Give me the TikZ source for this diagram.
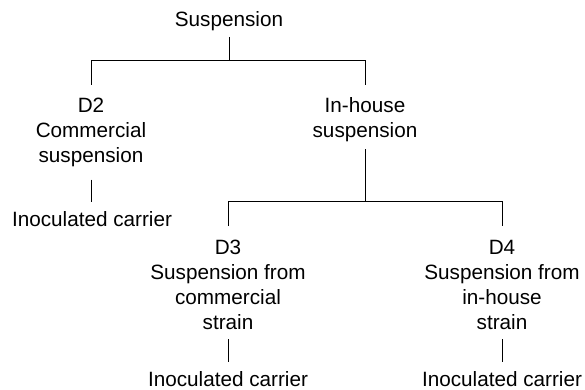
\documentclass[tikz,border=0pt]{standalone}
\usepackage{fontspec}
\setmainfont{Liberation Sans}
\begin{document}
\begin{tikzpicture}[x=1pt,y=-1pt,
  lbl/.style={anchor=base,inner sep=0pt,outer sep=0pt,font=\fontsize{20.7}{25}\selectfont},
  conn/.style={line width=1pt,black}]
\useasboundingbox (0,0) rectangle (585,390);
\node[lbl] (root) at (229,26.5) {\begin{tabular}[t]{@{}c@{}}Suspension\end{tabular}};
\node[lbl] (d2) at (91,113) {\begin{tabular}[t]{@{}c@{}}D2\\Commercial\\suspension\end{tabular}};
\node[lbl] (inh) at (365,113) {\begin{tabular}[t]{@{}c@{}}In-house\\suspension\end{tabular}};
\node[lbl] (ic2) at (92,226) {\begin{tabular}[t]{@{}c@{}}Inoculated carrier\end{tabular}};
\node[lbl] (d3) at (228,254) {\begin{tabular}[t]{@{}c@{}}D3\\Suspension from\\commercial\\strain\end{tabular}};
\node[lbl] (d4) at (502,254) {\begin{tabular}[t]{@{}c@{}}D4\\Suspension from\\in-house\\strain\end{tabular}};
\node[lbl] (ic3) at (228,386) {\begin{tabular}[t]{@{}c@{}}Inoculated carrier\end{tabular}};
\node[lbl] (ic4) at (502,386) {\begin{tabular}[t]{@{}c@{}}Inoculated carrier\end{tabular}};
\coordinate (bar1) at (0,61);
\coordinate (bar2) at (0,201);
\draw[conn] ([yshift=-3pt]root.south) -- (root.south |- bar1);
\draw[conn] ([yshift=10.5pt]d2.north) |- (bar1 -| inh) -- ([yshift=10.5pt]inh.north);
\draw[conn] ([yshift=-9pt]d2.south) -- ([yshift=6.5pt]ic2.north -| d2);
\draw[conn] ([yshift=-3.5pt]inh.south) -- (inh.south |- bar2);
\draw[conn] ([yshift=10.5pt]d3.north) |- (bar2 -| d4) -- ([yshift=10.5pt]d4.north);
\draw[conn] ([yshift=-2.5pt]d3.south) -- ([yshift=6.5pt]ic3.north);
\draw[conn] ([yshift=-2.5pt]d4.south) -- ([yshift=6.5pt]ic4.north);
\end{tikzpicture}
\end{document}
